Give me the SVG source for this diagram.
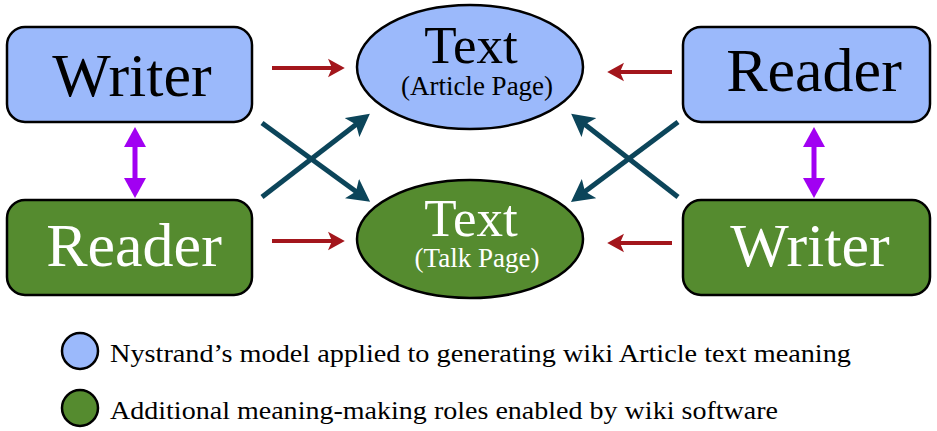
<svg xmlns="http://www.w3.org/2000/svg" width="937" height="431" viewBox="0 0 937 431">
<defs>
<style>
.blue{fill:#9bb9fb;stroke:#000;stroke-width:2.5}
.green{fill:#558b2f;stroke:#000;stroke-width:2.5}
.t{font-family:"Liberation Serif","Times New Roman",serif;text-anchor:middle}
.big{font-size:62px}
.mid{font-size:53px}
.sub{font-size:27px}
.dk{fill:#000}
.wh{fill:#fff}
.red{stroke:#a3161c;stroke-width:4;fill:none}
.teal{stroke:#0c455a;stroke-width:5;fill:none}
.pur{stroke:#a100f2;stroke-width:5;fill:none}
.leg{font-family:"Liberation Serif","Times New Roman",serif;font-size:26px;fill:#000}
</style>
<marker id="mr" markerWidth="5" markerHeight="5" refX="1.5" refY="2.5" orient="auto" markerUnits="strokeWidth">
<path d="M0,0.2 L4.2,2.5 L0,4.8 L1,2.5 Z" fill="#a3161c"/>
</marker>
<marker id="mt" markerWidth="5" markerHeight="5" refX="1.5" refY="2.5" orient="auto" markerUnits="strokeWidth">
<path d="M0,0.1 L4.5,2.5 L0,4.9 L1,2.5 Z" fill="#0c455a"/>
</marker>
<marker id="mp" markerWidth="5" markerHeight="5" refX="1" refY="2.5" orient="auto-start-reverse" markerUnits="strokeWidth">
<path d="M0,0.3 L4,2.5 L0,4.7 Z" fill="#a100f2"/>
</marker>
</defs>
<rect width="937" height="431" fill="#fff"/>
<g id="connectors">
<line class="red" x1="272" y1="68" x2="334" y2="68" marker-end="url(#mr)"/>
<line class="red" x1="272" y1="241" x2="334" y2="241" marker-end="url(#mr)"/>
<line class="red" x1="672" y1="72" x2="618" y2="72" marker-end="url(#mr)"/>
<line class="red" x1="672" y1="243" x2="618" y2="243" marker-end="url(#mr)"/>
<line class="teal" x1="262" y1="123" x2="358" y2="193" marker-end="url(#mt)"/>
<line class="teal" x1="262" y1="197" x2="358" y2="123" marker-end="url(#mt)"/>
<line class="teal" x1="678" y1="122" x2="583" y2="193" marker-end="url(#mt)"/>
<line class="teal" x1="678" y1="197" x2="583" y2="123" marker-end="url(#mt)"/>
<line class="pur" x1="135" y1="142" x2="135" y2="183" marker-start="url(#mp)" marker-end="url(#mp)"/>
<line class="pur" x1="814" y1="142" x2="814" y2="183" marker-start="url(#mp)" marker-end="url(#mp)"/>
</g>
<g id="writer-top">
<rect class="blue" x="7" y="27" width="245" height="95" rx="18"/>
<text class="t big dk" x="132" y="96">Writer</text>
</g>
<g id="reader-bottom">
<rect class="green" x="7" y="200" width="245" height="95" rx="18"/>
<text class="t big wh" x="134" y="266">Reader</text>
</g>
<g id="reader-top">
<rect class="blue" x="683" y="27" width="247" height="95" rx="18"/>
<text class="t big dk" x="814" y="91">Reader</text>
</g>
<g id="writer-bottom">
<rect class="green" x="683" y="200" width="247" height="95" rx="18"/>
<text class="t big wh" x="810" y="266">Writer</text>
</g>
<g id="text-article">
<ellipse class="blue" cx="470" cy="67" rx="113" ry="62"/>
<text class="t mid dk" x="471" y="63">Text</text>
<text class="t sub dk" x="477" y="95">(Article Page)</text>
</g>
<g id="text-talk">
<ellipse class="green" cx="470" cy="239" rx="113" ry="59"/>
<text class="t mid wh" x="471" y="236">Text</text>
<text class="t sub wh" x="477" y="267">(Talk Page)</text>
</g>
<g id="legend">
<circle class="blue" cx="80" cy="351" r="18"/>
<text class="leg" x="110" y="362" textLength="741" lengthAdjust="spacingAndGlyphs">Nystrand’s model applied to generating wiki Article text meaning</text>
<circle class="green" cx="80" cy="408" r="18"/>
<text class="leg" x="110" y="419" textLength="668" lengthAdjust="spacingAndGlyphs">Additional meaning-making roles enabled by wiki software</text>
</g>
</svg>
